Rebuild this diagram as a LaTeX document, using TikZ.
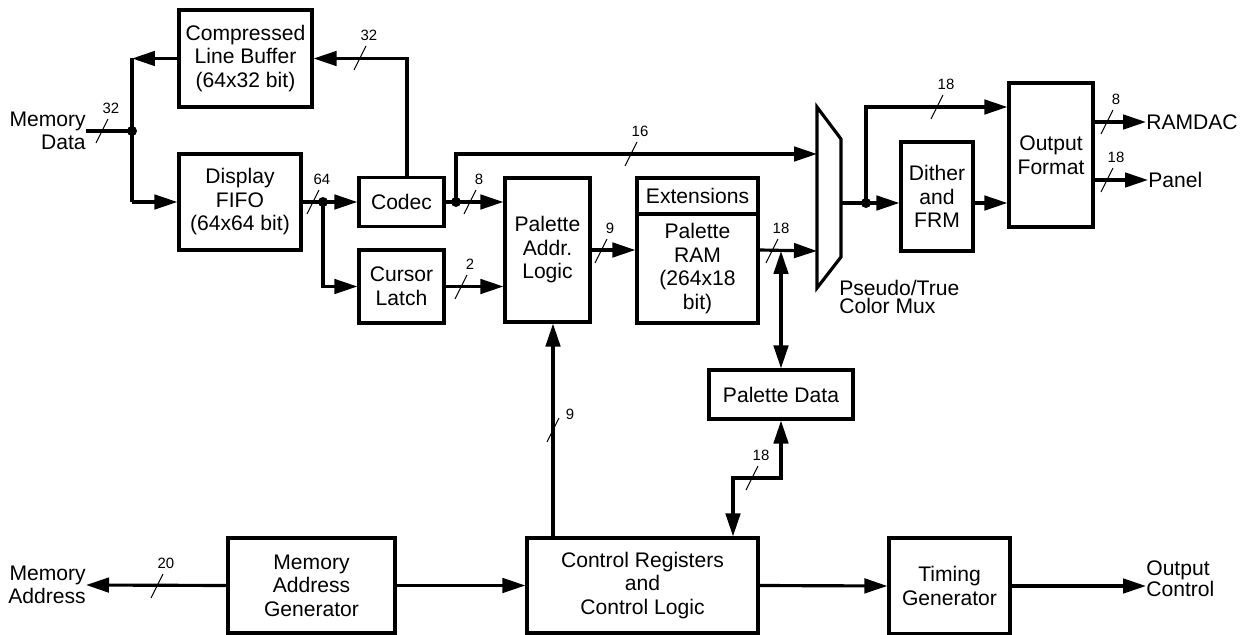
\documentclass[tikz,border=0pt]{standalone}
\usepackage{fontspec}
\setmainfont{Liberation Sans}
\usetikzlibrary{arrows.meta}
\newcommand{\boxfont}{\fontsize{12}{13.4}\selectfont}
\newcommand{\tightfont}{\fontsize{12}{10.4}\selectfont}
\newcommand{\busfont}{\fontsize{8.5}{10}\selectfont}
\newcommand{\busmark}[3]{\draw[slash] (#1,#2) +(-6,12) -- +(6,-12); \node[buslabel] at (#1+9,#2-23) {#3};}
\begin{document}
\begin{tikzpicture}
[x=0.02cm, y=-0.02cm, font=\boxfont]
\tikzstyle{block}=[draw, line width=1.8pt, align=center, inner sep=1pt]
\tikzstyle{txt}=[inner sep=0pt]
\tikzstyle{bus}=[line width=1.8pt]
\tikzstyle{flow}=[bus, -{Triangle[length=0.46cm,width=0.29cm]}]
\tikzstyle{both}=[bus, {Triangle[length=0.46cm,width=0.29cm]}-{Triangle[length=0.46cm,width=0.29cm]}]
\tikzstyle{slash}=[line width=0.6pt]
\tikzstyle{buslabel}=[font=\busfont, inner sep=0pt]
\tikzstyle{dot}=[circle, fill, inner sep=0pt, minimum size=0.2cm]
\useasboundingbox (0,0) rectangle (1242,635);

\node[block, minimum width=2.66cm, minimum height=1.94cm] (clb) at (245.5,58.5) {Compressed\\Line Buffer\\(64x32 bit)};
\node[block, minimum width=2.44cm, minimum height=1.92cm] (fifo) at (240,202) {Display\\FIFO\\(64x64 bit)};
\node[block, minimum width=1.7cm, minimum height=0.98cm] (codec) at (401.5,202) {Codec};
\node[block, minimum width=1.7cm, minimum height=1.46cm] (cursor) at (401.5,286.5) {Cursor\\Latch};
\node[block, minimum width=1.7cm, minimum height=2.88cm] (pal) at (547.5,250) {Palette\\Addr.\\Logic};
\node[block, minimum width=2.42cm, minimum height=0.72cm] (ext) at (697.5,196) {Extensions};
\node[block, minimum width=2.42cm, minimum height=2.18cm] (pram) at (697.5,268.5) {Palette\\RAM\\(264x18\\bit)};
\node[block, minimum width=2.88cm, minimum height=0.98cm] (pdata) at (781,394.5) {Palette Data};
\node[block, minimum width=1.44cm, minimum height=2.18cm] (dither) at (937,196.5) {Dither\\and\\FRM};
\node[block, minimum width=1.68cm, minimum height=2.88cm] (outfmt) at (1051,155) {Output\\Format};
\node[block, minimum width=3.34cm, minimum height=1.9cm] (mag) at (311.5,585.5) {Memory\\Address\\Generator};
\node[block, minimum width=4.62cm, minimum height=1.9cm] (ctrl) at (642.5,585.5) {Control Registers\\and\\Control Logic};
\node[block, minimum width=2.42cm, minimum height=1.92cm] (timing) at (949.5,586) {Timing\\Generator};

\node[txt, anchor=east, align=right] (memdata) at (86,131) {Memory\\Data};
\node[txt, anchor=east, align=right] (memaddr) at (86,585) {Memory\\Address};
\node[txt, anchor=west, align=left, font=\tightfont] (outctl) at (1146,579) {Output\\Control};
\node[txt, anchor=west] (ramdac) at (1146,122) {RAMDAC};
\node[txt, anchor=west] (panel) at (1148,180) {Panel};
\node[txt, anchor=north west, align=left, font=\tightfont] (muxlbl) at (839,280) {Pseudo/True\\Color Mux};

\draw[line width=1.8pt] (817,107) coordinate (muxtl) -- (841,139) -- (841,257) -- (817,288) -- cycle;
\coordinate (muxin1) at (817,154);
\coordinate (muxin2) at (817,251);
\coordinate (muxout) at (841,203);

\coordinate (jtop) at (132,58.5);
\coordinate (jmem) at (132,131);
\coordinate (jbot) at (132,202);
\coordinate (jfifo) at (323,202);
\coordinate (jcodec) at (456,202);
\coordinate (jmux) at (866,203);
\coordinate (top18) at (866,107);
\coordinate (zig) at (733,478);

\draw[bus] (memdata.east) -- (jmem);
\draw[bus] (jtop) -- (jbot);
\draw[flow] (clb.west) -- (jtop);
\draw[flow] (jbot) -- (fifo.west);
\draw[flow] (fifo.east) -- (codec.west);
\draw[flow] (jfifo) |- (cursor.west);
\draw[flow] ([xshift=0.11cm]codec.north) |- (clb.east);
\draw[flow] (codec.east) -- (codec.east -| pal.west);
\draw[flow] (jcodec) |- (muxin1);
\draw[flow] (cursor.east) -- (cursor.east -| pal.west);
\draw[flow] (pal.east) -- (pal.east -| pram.west);
\draw[flow] (pal.east -| pram.east) -- (muxin2);
\draw[both] (pdata.north) -- (pdata.north |- muxin2);
\draw[both] (pdata.south) |- (zig) -- (zig |- ctrl.north);
\draw[flow] ([xshift=0.11cm]pal.south |- ctrl.north) -- ([xshift=0.11cm]pal.south);
\draw[flow] (mag.west) -- (memaddr.east);
\draw[flow] (mag.east) -- (ctrl.west);
\draw[flow] (ctrl.east) -- (timing.west);
\draw[flow] (timing.east) -- (timing.east -| outctl.west);
\draw[bus] (muxout) -- (jmux);
\draw[flow] (jmux) -- (jmux -| dither.west);
\draw[flow] (jmux) -- (top18) -- (top18 -| outfmt.west);
\draw[flow] (muxout -| dither.east) -- (muxout -| outfmt.west);
\draw[flow] (ramdac.west -| outfmt.east) -- (ramdac.west);
\draw[flow] (panel.west -| outfmt.east) -- (panel.west);

\node[dot] (d1) at (jmem) {};
\node[dot] (d2) at (jfifo) {};
\node[dot] (d3) at (jcodec) {};
\node[dot] (d4) at (jmux) {};

\busmark{102}{131}{32}
\busmark{360}{58}{32}
\busmark{313}{202}{64}
\busmark{470}{202}{8}
\busmark{631}{154}{16}
\busmark{461}{287}{2}
\busmark{601}{251}{9}
\busmark{772}{251}{18}
\busmark{752}{478}{18}
\busmark{157}{586}{20}
\busmark{937}{107}{18}
\busmark{1107}{122}{8}
\busmark{1107}{180}{18}
\draw[slash] (553,430) +(-6,12) -- +(6,-12);
\node[buslabel] (lbl9) at (570,414) {9};
\end{tikzpicture}
\end{document}
